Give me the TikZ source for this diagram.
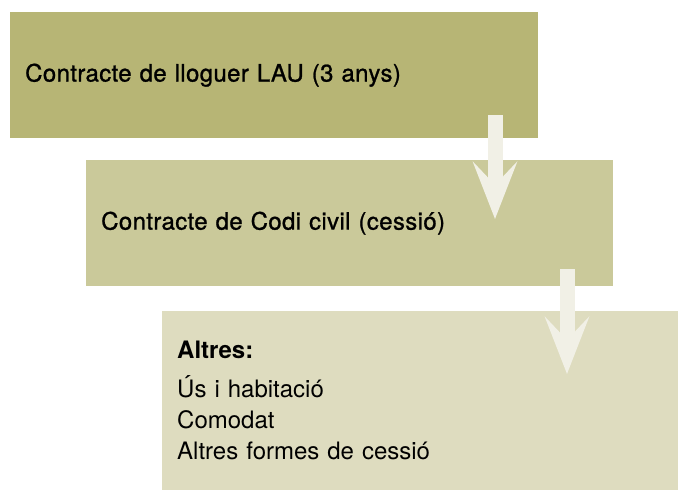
\documentclass[tikz,border=0pt]{standalone}
\usepackage{fontspec}
\setmainfont{TeX Gyre Heros}
\newfontfamily\medfont{TeX Gyre Heros}[LetterSpace=1.5,FakeBold=1]
\usetikzlibrary{arrows.meta}

\definecolor{oliveA}{RGB}{183,181,117}
\definecolor{oliveB}{RGB}{202,201,154}
\definecolor{oliveC}{RGB}{222,220,191}
\definecolor{arrowfill}{RGB}{241,240,230}

\begin{document}
\begin{tikzpicture}[x=1pt,y=-1pt]
				\useasboundingbox (0,0) rectangle (678,490);
				\begin{scope}[every node/.style={anchor=north west,inner xsep=15pt,inner ysep=0pt,align=left,font=\fontsize{24}{31}\selectfont}]
                    \node (A) [fill=oliveA,minimum width=528pt,minimum height=126pt,text width=498pt] at (10,12) {\medfont Contracte de lloguer LAU (3 anys)};
                    \node (B) [fill=oliveB,minimum width=527pt,minimum height=126pt,text width=497pt] at (86,160) {\medfont Contracte de Codi civil (cessió)};
                    \node (C) [fill=oliveC,minimum width=516pt,minimum height=179pt,text width=486pt] at (162,311) {\textbf{Altres:}\\[8pt]Ús i habitació\\Comodat\\Altres formes de cessió\\[-4pt]};
                \end{scope}

                \coordinate (a1) at (495,115);
                \coordinate (a2) at (495,219);
                \coordinate (b1) at (567,269);
                \coordinate (b2) at (567,374);

                \begin{scope}[>={Stealth[length=57pt,width=44pt,inset=23pt]},
                every edge/.style={draw=arrowfill,fill=arrowfill,line width=15pt}]
                    \path [->] (a1) edge node {} (a2);
                    \path [->] (b1) edge node {} (b2);
                \end{scope}
			\end{tikzpicture}
\end{document}
